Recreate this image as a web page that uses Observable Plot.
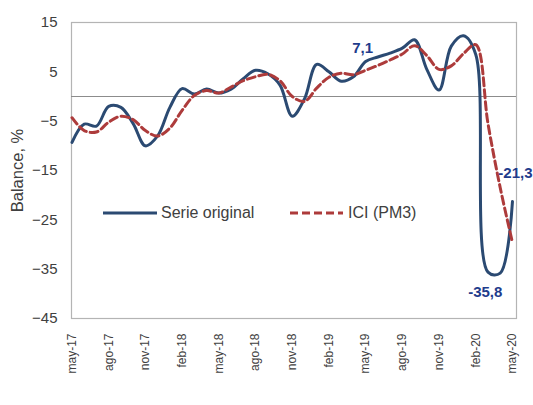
<!DOCTYPE html>
<html>
<head>
<meta charset="utf-8">
<script src="https://cdn.jsdelivr.net/npm/d3@7"></script>
<script src="https://cdn.jsdelivr.net/npm/@observablehq/plot@0.6"></script>
<style>
  html, body { margin: 0; padding: 0; background: #ffffff; }
  #wrap { position: relative; width: 533px; height: 405px; font-family: "Liberation Sans", Arial, sans-serif; }
  #legend { position: absolute; left: 0; top: 0; width: 533px; height: 405px; pointer-events: none; }
  .lg { position: absolute; font-size: 16px; color: #404040; white-space: nowrap; line-height: 16px; }
</style>
</head>
<body>
<div id="wrap">
  <div id="chart"></div>
  <div id="legend"></div>
</div>
<script>
// Months (category axis)
const months = ["may-17","jun-17","jul-17","ago-17","sep-17","oct-17","nov-17","dic-17",
  "ene-18","feb-18","mar-18","abr-18","may-18","jun-18","jul-18","ago-18","sep-18","oct-18","nov-18","dic-18",
  "ene-19","feb-19","mar-19","abr-19","may-19","jun-19","jul-19","ago-19","sep-19","oct-19","nov-19","dic-19",
  "ene-20","feb-20","mar-20","abr-20","may-20"];
// Tick labels shown on the x axis
const tickLabels = ["may-17","ago-17","nov-17","feb-18","may-18","ago-18","nov-18","feb-19","may-19","ago-19","nov-19","feb-20","may-20"];
// Series values (balance, %)
const serieOriginal = [-9.3,-5.6,-6.0,-2.0,-2.2,-5.5,-10.0,-8.0,-2.2,1.6,0.5,1.5,0.7,1.5,3.6,5.3,4.6,2.3,-4.0,-0.5,
  6.5,5.0,3.1,4.0,7.1,8.0,8.8,9.8,11.5,5.5,1.3,10.2,12.3,8.5,-35.6,-35.8,-21.3];
const iciPM3 = [-4.3,-6.9,-7.2,-5.2,-4.0,-4.7,-6.9,-8.0,-6.4,-2.8,0.2,1.2,0.7,1.9,3.2,4.0,4.5,3.2,0.0,-1.0,
  1.7,3.9,4.7,4.4,5.3,6.3,7.4,8.6,10.3,8.3,5.5,6.2,8.7,10.5,-5.5,-18.5,-29.6];
const yTicks = [-45,-35,-25,-15,-5,5,15];
const seriesNames = ["Serie original","ICI (PM3)"];
const labelledMonths = ["may-19","abr-20","may-20"];

const rows = months.map((m, i) => ({i, m, serie: serieOriginal[i], ici: iciPM3[i]}));
const fmt = v => v.toFixed(1).replace(".", ",");
const pick = m => rows.filter(d => d.m === m);

const blue = "#2b4a72", red = "#ad3b3b", labelBlue = "#1f3c8c", gray = "#404040";

const chart = Plot.plot({
  width: 533,
  height: 405,
  marginTop: 22,
  marginBottom: 87,
  marginLeft: 71,
  marginRight: 17,
  style: {fontFamily: '"Liberation Sans", Arial, sans-serif', color: gray, background: "transparent"},
  x: {type: "linear", domain: [-0.04, 36.33]},
  y: {domain: [-45, 15]},
  marks: [
    Plot.frame({stroke: "#b4b4b4", strokeWidth: 1.2}),
    Plot.ruleY([0], {stroke: "#8c8c8c", strokeWidth: 1.2}),
    Plot.axisX({
      ticks: tickLabels.map(t => months.indexOf(t)),
      tickFormat: i => months[i],
      tickRotate: -90, tickSize: 0, tickPadding: 15,
      fontSize: 12, fill: gray, label: null
    }),
    Plot.axisY({
      ticks: yTicks, tickSize: 0, tickPadding: 14, fontSize: 15, fill: gray,
      label: null
    }),
    Plot.text(["Balance, %"], {
      frameAnchor: "left", dx: -54, rotate: -90, fontSize: 16.5, fill: gray, textAnchor: "middle"
    }),
    Plot.line(rows, {x: "i", y: "serie", stroke: blue, strokeWidth: 3, curve: "catmull-rom"}),
    Plot.line(rows, {x: "i", y: "ici", stroke: red, strokeWidth: 3, strokeDasharray: "8,4", curve: "catmull-rom"}),
    Plot.text(pick(labelledMonths[0]), {x: "i", y: "serie", text: d => fmt(d.serie), dx: -3, dy: -13,
      fill: labelBlue, fontWeight: "bold", fontSize: 15}),
    Plot.text(pick(labelledMonths[1]), {x: "i", y: "serie", text: d => fmt(d.serie), dx: -15, dy: 19,
      fill: labelBlue, fontWeight: "bold", fontSize: 15}),
    Plot.text(pick(labelledMonths[2]), {x: "i", y: "serie", text: d => fmt(d.serie), dx: 3, dy: -28,
      fill: labelBlue, fontWeight: "bold", fontSize: 15})
  ]
});
document.getElementById("chart").appendChild(chart);

// Legend (inside the plot area)
const lg = document.getElementById("legend");
lg.innerHTML = `
  <svg width="533" height="405" style="position:absolute;left:0;top:0">
    <line x1="103" y1="213" x2="157" y2="213" stroke="${blue}" stroke-width="3"/>
    <line x1="290" y1="213" x2="343" y2="213" stroke="${red}" stroke-width="3" stroke-dasharray="8,4"/>
  </svg>
  <div class="lg" style="left:161px;top:205px">${seriesNames[0]}</div>
  <div class="lg" style="left:348px;top:205px">${seriesNames[1]}</div>`;
</script>
</body>
</html>
